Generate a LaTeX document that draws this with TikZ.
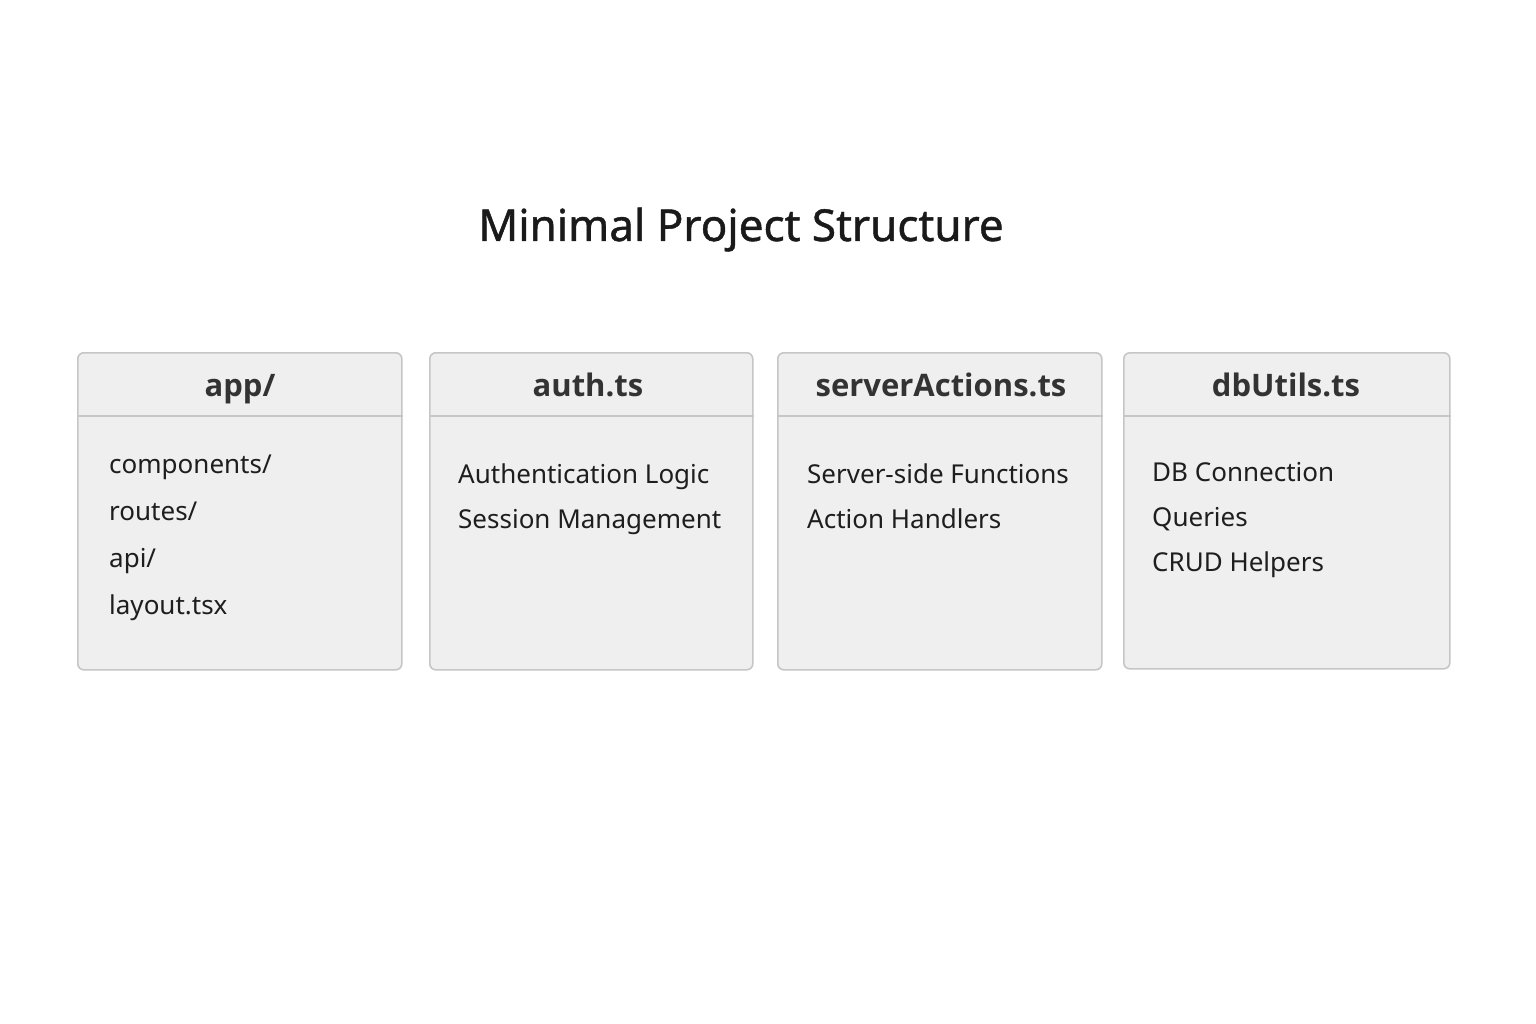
\documentclass[tikz,border=0pt]{standalone}
\usepackage{fontspec}
\setmainfont{Noto Sans}
\newfontfamily\titlefont{Noto Sans}[FakeBold=1.0]
\newfontfamily\headfont{Open Sans}
\usetikzlibrary{calc}
\definecolor{boxfill}{HTML}{EFEFEF}
\definecolor{boxline}{HTML}{C6C6C6}
\definecolor{titlecol}{HTML}{1A1A1A}
\definecolor{headcol}{HTML}{333333}
\definecolor{bodycol}{HTML}{1E1E1E}
\tikzset{
  filebox/.style={draw=boxline, fill=boxfill, line width=1.6pt, rounded corners=6pt,
    minimum width=324pt, minimum height=317pt, anchor=north west, inner sep=0pt},
  divider/.style={draw=boxline, line width=1.6pt},
  headtext/.style={font=\headfont\bfseries\fontsize{31}{36}\selectfont, text=headcol, anchor=base, inner sep=0pt},
  bodytext/.style={font=\fontsize{26}{30}\selectfont, text=bodycol, anchor=base west, inner sep=0pt},
  titletext/.style={font=\titlefont\fontsize{44}{50}\selectfont, text=titlecol, anchor=base, inner sep=0pt}
}
\begin{document}
\begin{tikzpicture}[x=1pt,y=-1pt]
\useasboundingbox[fill=white] (0,0) rectangle (1536,1024);
\node[titletext] (title) at (741,241) {Minimal Project Structure};

% boxes
\node[filebox] (b1) at (77,352) {};
\node[filebox, minimum width=323pt] (b2) at (429,352) {};
\node[filebox] (b3) at (777,352) {};
\node[filebox, minimum width=326pt, minimum height=316pt] (b4) at (1123,352) {};

\foreach \b in {b1,b2,b3,b4}{
  \draw[divider] ($(\b.north west)+(0,64)$) -- ($(\b.north east)+(0,64)$);
}

% headers
\node[headtext] (h1) at (240,396) {app/};
\node[headtext] (h2) at (588,396) {auth.ts};
\node[headtext] (h3) at (941,396) {serverActions.ts};
\node[headtext] (h4) at (1286,396) {dbUtils.ts};

% app/ contents
\node[bodytext] (a1) at (109,473) {components/};
\node[bodytext] (a2) at (109,520) {routes/};
\node[bodytext] (a3) at (109,567) {api/};
\node[bodytext] (a4) at (109,614) {layout.tsx};

% auth.ts contents
\node[bodytext] (u1) at (458,483) {Authentication Logic};
\node[bodytext] (u2) at (458,528) {Session Management};

% serverActions.ts contents
\node[bodytext] (s1) at (807,483) {Server-side Functions};
\node[bodytext] (s2) at (807,528) {Action Handlers};

% dbUtils.ts contents
\node[bodytext] (d1) at (1152,481) {DB Connection};
\node[bodytext] (d2) at (1152,526) {Queries};
\node[bodytext] (d3) at (1152,571) {CRUD Helpers};
\end{tikzpicture}
\end{document}
